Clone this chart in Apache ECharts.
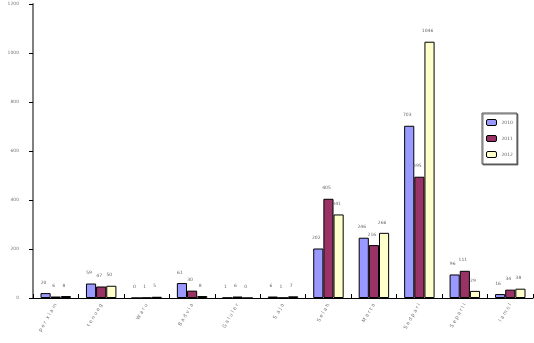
<!DOCTYPE html>
<html><head><meta charset="utf-8">
<script src="https://cdn.jsdelivr.net/npm/echarts@6/dist/echarts.min.js"></script>
<style>html,body{margin:0;padding:0;background:#fff}#c{width:534px;height:343px}</style>
</head><body><div id="c"></div>
<script>
const categories = ["p e r  x i a m", "t e n u e g", "W a r u", "B a d v i a", "G a l u l e r", "S  a j a", "S e l a h", "M a r t a", "S e d p a r i", "S e p a r l i", "l a m o l"];
const seriesNames = ["2010", "2011", "2012"];
const s2010 = [20, 59, 0, 61, 1, 6, 202, 246, 703, 96, 16];
const s2011 = [6, 47, 1, 30, 6, 1, 405, 216, 495, 111, 34];
const s2012 = [8, 50, 5, 8, 0, 7, 341, 266, 1046, 29, 38];
const yTicks = [0, 200, 400, 600, 800, 1000, 1200];
const colors = ["#9999ff", "#993366", "#ffffcc"];

const chart = echarts.init(document.getElementById('c'), null, {renderer: 'canvas'});
const mk = (name, data, color) => ({
  name, type: 'bar', data, barGap: '0%', barCategoryGap: '33%',
  itemStyle: {color, borderColor: '#000', borderWidth: 1},
  label: {show: true, position: 'top', distance: 8, offset: [-2, 0], fontSize: 4.5, color: '#666', fontFamily: 'DejaVu Sans'}
});
chart.setOption({
  animation: false,
  grid: {left: 33, right: 1, top: 4, bottom: 45, containLabel: false},
  legend: {
    orient: 'vertical', left: 482, top: 113, width: 48, height: 48,
    data: seriesNames, itemWidth: 10, itemHeight: 6, itemGap: 9,
    padding: [6, 4, 6, 4], borderColor: '#555', borderWidth: 1,
    shadowColor: 'rgba(0,0,0,0.5)', shadowOffsetX: 1, shadowOffsetY: 1, shadowBlur: 0,
    backgroundColor: '#fff',
    textStyle: {fontSize: 4.5, color: '#666', fontFamily: 'DejaVu Sans'},
    itemStyle: {borderColor: '#000', borderWidth: 1}
  },
  xAxis: {
    type: 'category', data: categories, boundaryGap: true,
    axisLine: {lineStyle: {color: '#000', width: 1}},
    axisTick: {show: true, inside: true, length: 4, alignWithLabel: false, lineStyle: {color: '#000'}},
    axisLabel: {rotate: 60, fontSize: 5, color: '#777', margin: 6, interval: 0, fontFamily: 'DejaVu Sans'}
  },
  yAxis: {
    type: 'value', min: yTicks[0], max: yTicks[yTicks.length - 1], interval: 200,
    splitLine: {show: false},
    axisLine: {show: true, lineStyle: {color: '#808080', width: 2}},
    axisTick: {show: true, length: 4, lineStyle: {color: '#000', width: 1}},
    axisLabel: {fontSize: 4.5, color: '#777', margin: 14, fontFamily: 'DejaVu Sans', formatter: v => String(v)}
  },
  series: [mk(seriesNames[0], s2010, colors[0]), mk(seriesNames[1], s2011, colors[1]), mk(seriesNames[2], s2012, colors[2])]
});
</script></body></html>
